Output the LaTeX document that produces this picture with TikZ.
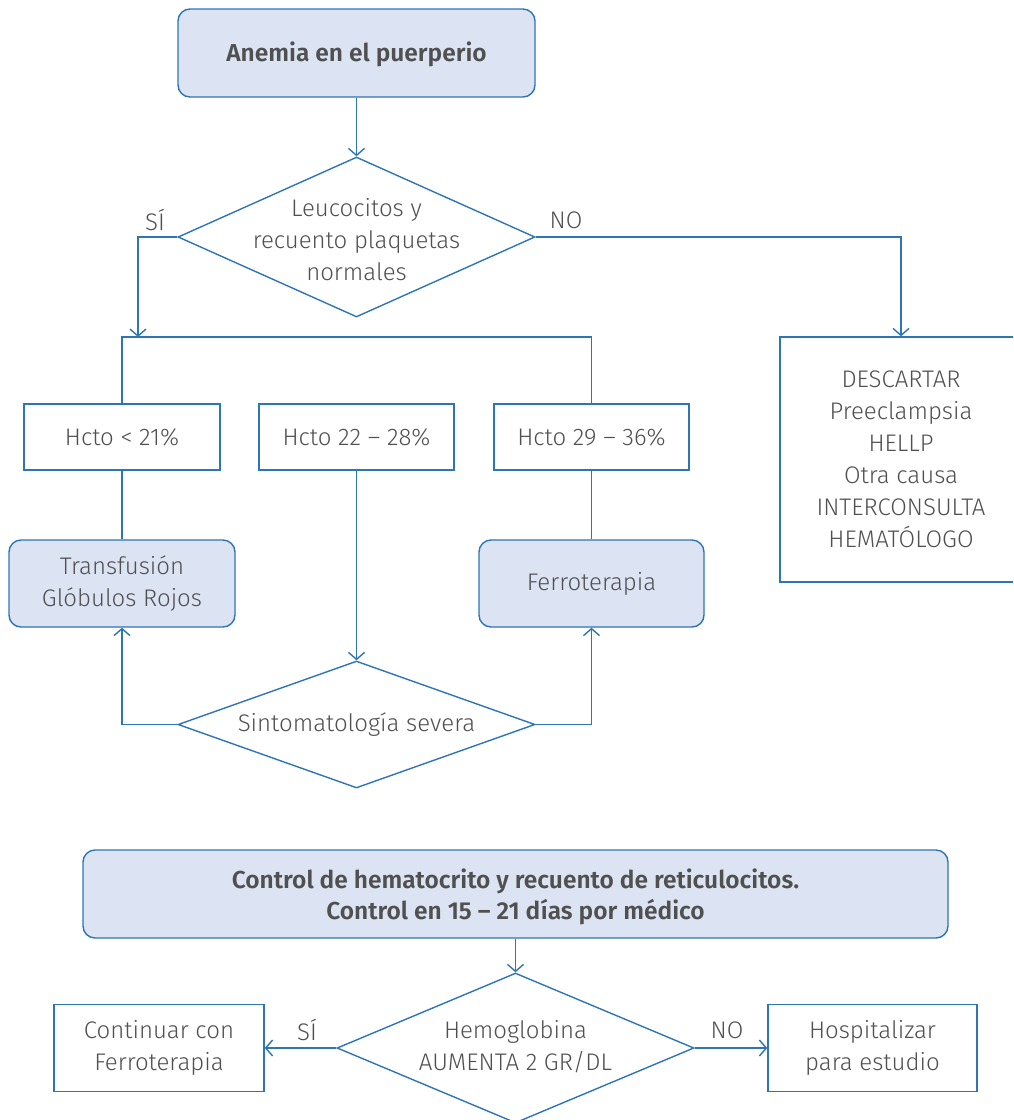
\documentclass[tikz,border=0pt]{standalone}
\usepackage{fontspec}
\setmainfont{Fira Sans}[UprightFont={* Light}, BoldFont={* SemiBold}]
\usetikzlibrary{arrows.meta,shapes.geometric}
\definecolor{edge}{HTML}{2E75B6}
\definecolor{fillb}{HTML}{DCE4F3}
\definecolor{ink}{HTML}{505050}
\begin{document}
\begin{tikzpicture}[x=1pt,y=-1pt,
  every node/.style={text=ink, font=\fontsize{24}{32}\selectfont},
  link/.style={draw=edge, line width=1.4pt},
  arr/.style={link, -{Straight Barb[length=7pt,width=16pt]}},
  plainbox/.style={draw=edge, line width=1.4pt, align=center, inner sep=0pt},
  softbox/.style={plainbox, fill=fillb, rounded corners=12pt},
  dia/.style={draw=edge, line width=1.4pt, shape=diamond, inner sep=0pt},
  txt/.style={align=center, inner sep=0pt},
  boldtxt/.style={txt, font=\fontsize{24.5}{31}\selectfont\bfseries}]
\clip (0,0) rectangle (1013,1120);
\fill[white] (0,0) rectangle (1013,1120);

% --- upper chart ---
\node[softbox, minimum width=357pt, minimum height=88pt] (start) at (356.5,53) {};
\node[boldtxt] (startt) at (356.5,54) {Anemia en el puerperio};

\node[dia, minimum width=357pt, minimum height=160pt] (d1) at (356.5,237) {};
\node[txt] (d1t) at (356.5,240) {Leucocitos y\\recuento plaquetas\\normales};
\node[txt] (si1) at (155,220) {SÍ};
\node[txt] (no1) at (566,220) {NO};

\coordinate (split) at (138,337);
\coordinate (barL) at (122,337);
\coordinate (barR) at (591.5,337);

\node[plainbox, minimum width=196pt, minimum height=66pt] (h1) at (122,437) {Hcto < 21\%};
\node[plainbox, minimum width=195pt, minimum height=66pt] (h2) at (356.5,437) {Hcto 22 – 28\%};
\node[plainbox, minimum width=195pt, minimum height=66pt] (h3) at (591.5,437) {Hcto 29 – 36\%};

\node[softbox, minimum width=226pt, minimum height=87pt] (tr) at (122,583.5) {Transfusión\\Glóbulos Rojos};
\node[softbox, minimum width=225pt, minimum height=87pt] (fe) at (591.5,583.5) {Ferroterapia};

\node[dia, minimum width=357pt, minimum height=127pt] (d2) at (356.5,724.5) {};
\node[txt] (d2t) at (356.5,725) {Sintomatología severa};

\node[plainbox, minimum width=242pt, minimum height=245pt] (desc) at (901,459.5)
  {DESCARTAR\\Preeclampsia\\HELLP\\Otra causa\\INTERCONSULTA\\HEMATÓLOGO};

\draw[arr] (start) -- (d1.north);
\draw[arr] (d1.west) -| (split);
\draw[arr] (d1.east) -| (desc.north);
\draw[link] (h1.north) -- (barL) -- (barR) -- (h3.north);
\draw[link] (h1) -- (tr);
\draw[link] (h3) -- (fe);
\draw[arr] (h2) -- (d2.north);
\draw[arr] (d2.west) -| (tr.south);
\draw[arr] (d2.east) -| (fe.south);

% --- lower chart ---
\node[softbox, minimum width=865pt, minimum height=88pt] (ctrl) at (515.5,894) {};
\node[boldtxt] (ctrlt) at (515.5,897) {Control de hematocrito y recuento de reticulocitos.\\Control en 15 – 21 días por médico};

\node[dia, minimum width=357pt, minimum height=150pt] (d3) at (515.5,1048) {};
\node[txt] (d3t) at (515.5,1047) {Hemoglobina\\AUMENTA 2 GR/DL};

\node[plainbox, minimum width=210pt, minimum height=87pt] (cont) at (159,1048) {Continuar con\\Ferroterapia};
\node[plainbox, minimum width=209pt, minimum height=87pt] (hosp) at (872.5,1048) {Hospitalizar\\para estudio};
\node[txt] (si2) at (307,1030) {SÍ};
\node[txt] (no2) at (727,1030) {NO};

\draw[arr] (ctrl) -- (d3.north);
\draw[arr] (d3.west) -- (cont.east);
\draw[arr] (d3.east) -- (hosp.west);
\end{tikzpicture}
\end{document}
